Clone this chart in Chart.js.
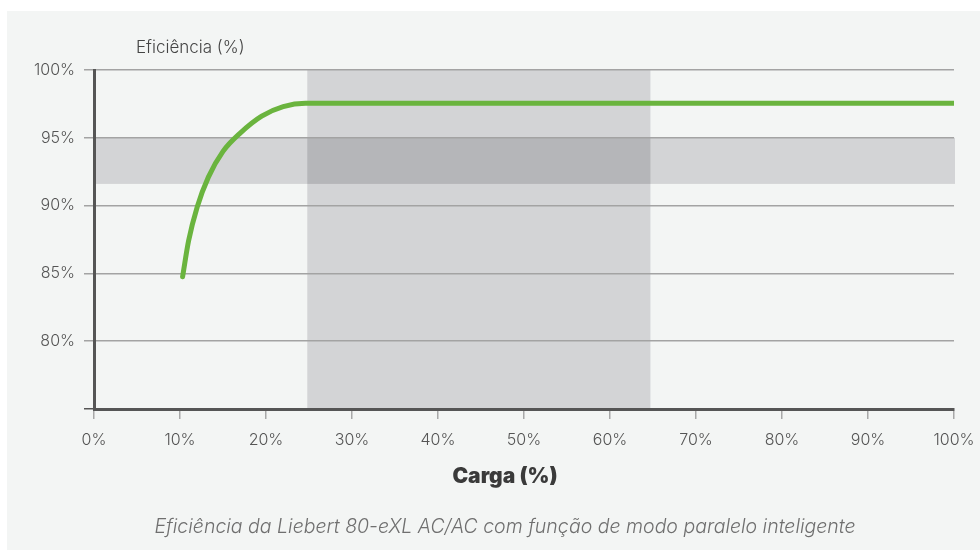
<!DOCTYPE html>
<html>
<head>
<meta charset="utf-8">
<script src="https://cdn.jsdelivr.net/npm/chart.js@4"></script>
<style>
  html, body { margin: 0; padding: 0; background: #fff; }
  #wrap { position: relative; width: 980px; height: 550px; }
</style>
</head>
<body>
<div id="wrap"><canvas id="chart" width="980" height="550"></canvas></div>
<script>
'use strict';

/* DATA */
const loadPct = [10.3, 11.0, 12.0, 13.3, 15.0, 17.0, 19.5, 22.0, 24.6, 100];
const efficiency = [84.75, 87.4, 89.9, 92.1, 94.0, 95.35, 96.6, 97.3, 97.55, 97.55];
const loadBand = [24.8, 64.7];    // vertical shaded band (load %)
const effBand = [91.6, 95];       // horizontal shaded band (efficiency %)
const yTicks = [80, 85, 90, 95, 100];
const xTicks = [0, 10, 20, 30, 40, 50, 60, 70, 80, 90, 100];

const yTitle = 'Eficiência (%)';
const xTitle = 'Carga (%)';
const caption = 'Eficiência da Liebert 80-eXL AC/AC com função de modo paralelo inteligente';

/* background, bands and texts */
const decor = {
  id: 'decor',
  beforeDraw(chart) {
    const { ctx, scales: { x, y } } = chart;
    ctx.save();
    ctx.fillStyle = '#f3f5f4';
    ctx.fillRect(7, 11, chart.width - 7, chart.height - 11);

    const x0 = x.getPixelForValue(loadBand[0]), x1 = x.getPixelForValue(loadBand[1]);
    const yt = y.getPixelForValue(effBand[1]), yb = y.getPixelForValue(effBand[0]);
    const l = x.getPixelForValue(0), r = x.getPixelForValue(100) + 1;
    ctx.fillStyle = '#d3d4d6';
    ctx.fillRect(x0, y.top, x1 - x0, y.bottom - y.top);
    ctx.fillRect(l, yt, r - l, yb - yt);
    ctx.fillStyle = '#b5b6b9';
    ctx.fillRect(x0, yt, x1 - x0, yb - yt);
    ctx.restore();
  },
  afterDraw(chart) {
    const { ctx } = chart;
    const mid = 505;
    ctx.save();
    ctx.textBaseline = 'middle';
    ctx.fillStyle = '#444';
    ctx.font = '300 17px Inter';
    ctx.textAlign = 'left';
    ctx.fillText(yTitle, 136, 48);

    ctx.textAlign = 'center';
    ctx.fillStyle = '#3a3a3a';
    ctx.font = '900 21px Inter';
    ctx.fillText(xTitle, mid, 477);

    ctx.fillStyle = '#6f6f6f';
    ctx.font = 'italic 300 19.5px Inter';
    ctx.fillText(caption, mid, 527);
    ctx.restore();
  }
};

new Chart(document.getElementById('chart'), {
  type: 'line',
  data: {
    datasets: [{
      data: loadPct.map((v, i) => ({ x: v, y: efficiency[i] })),
      borderColor: '#6ab43e',
      borderWidth: 5,
      borderCapStyle: 'round',
      borderJoinStyle: 'round',
      cubicInterpolationMode: 'monotone',
      pointRadius: 0,
      fill: false
    }]
  },
  plugins: [decor],
  options: {
    responsive: false,
    animation: false,
    layout: { padding: { top: 70, right: 26, left: 0, bottom: 0 } },
    plugins: { legend: { display: false }, tooltip: { enabled: false } },
    scales: {
      x: {
        type: 'linear',
        min: 0, max: 100,
        afterBuildTicks: s => { s.ticks = xTicks.map(v => ({ value: v })); },
        afterFit: s => { s.height = 141; s.paddingLeft = 0; s.paddingRight = 0; },
        border: { color: '#555', width: 3 },
        grid: { drawOnChartArea: false, drawTicks: true, tickLength: 10, color: '#a8a8a8', lineWidth: 1.5 },
        ticks: { padding: 12, color: '#555', font: { family: 'Inter', size: 16, weight: '300' }, callback: v => v + '%' }
      },
      y: {
        min: 75, max: 100,
        afterBuildTicks: s => { s.ticks = [75].concat(yTicks).map(v => ({ value: v })); },
        afterFit: s => { s.width = 94; },
        border: { color: '#555', width: 3 },
        grid: {
          drawTicks: true, tickLength: 10, lineWidth: 1.5,
          color: c => c.tick && c.tick.value === 75 ? '#555' : '#a3a3a3'
        },
        ticks: { padding: 9, color: '#555', font: { family: 'Inter', size: 16, weight: '300' }, callback: v => v === 75 ? '' : v + '%' }
      }
    }
  }
});
</script>
</body>
</html>
